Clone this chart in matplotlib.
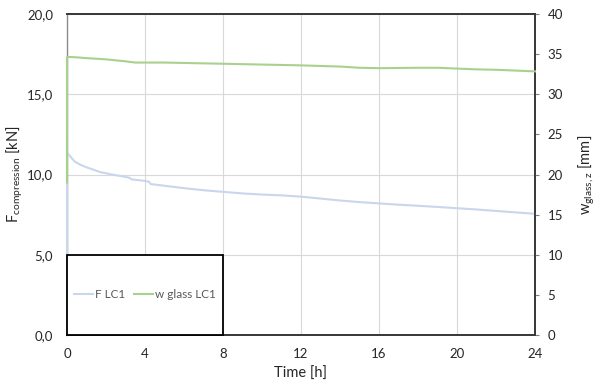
import matplotlib
matplotlib.use("Agg")
import matplotlib.pyplot as plt
from matplotlib.patches import Rectangle
from matplotlib.ticker import FuncFormatter

# Data
t_F = [0, 0.001, 0.05, 0.15, 0.4, 0.7, 1.0, 1.7, 2.3, 3.0, 3.2, 3.3, 4.0, 4.2, 4.3,
       5, 6, 7, 8, 9, 10, 11, 12, 13, 14, 15, 16, 17, 18, 19, 20, 21, 22, 23, 24]
F_LC1 = [0, 11.4, 11.3, 11.15, 10.8, 10.6, 10.45, 10.15, 10.0, 9.85, 9.8, 9.7, 9.6, 9.55, 9.4,
         9.3, 9.15, 9.02, 8.92, 8.82, 8.75, 8.7, 8.62, 8.5, 8.38, 8.28, 8.2, 8.12, 8.05, 7.98,
         7.9, 7.82, 7.73, 7.64, 7.55]

t_w = [0, 0.001, 0.05, 0.5, 1, 2, 3, 3.5, 4, 5, 6, 8, 10, 12, 14, 15, 16, 18, 19, 20,
       21, 22, 23, 24]
w_glass_LC1 = [19, 34.6, 34.65, 34.6, 34.5, 34.35, 34.1, 33.95, 33.95, 33.95, 33.9, 33.8,
               33.7, 33.6, 33.45, 33.3, 33.25, 33.3, 33.3, 33.2, 33.1, 33.05, 32.95, 32.85]

x_ticks = [0, 4, 8, 12, 16, 20, 24]
left_ticks = [0, 5, 10, 15, 20]
right_ticks = [0, 5, 10, 15, 20, 25, 30, 35, 40]

plt.rcParams['font.family'] = ['Lato', 'DejaVu Sans']

fig = plt.figure(figsize=(6, 3.87), dpi=100)
ax = fig.add_axes([67/600, 52/387, 468/600, 321/387])
ax2 = ax.twinx()

blue = '#c9d6ec'
green = '#a9d18e'
txt = '#262626'

ax.set_xlim(0, 24)
ax.set_ylim(0, 20)
ax2.set_ylim(0, 40)
ax.set_xticks(x_ticks)
ax.set_yticks(left_ticks)
ax2.set_yticks(right_ticks)
ax.yaxis.set_major_formatter(FuncFormatter(lambda v, p: f"{v:.1f}".replace('.', ',')))

ax.grid(True, color='#d9d9d9', linewidth=0.8)
ax.set_axisbelow(True)

lF, = ax.plot(t_F, F_LC1, color=blue, lw=1.5, label='F LC1', zorder=3, clip_on=False)
lw, = ax2.plot(t_w, w_glass_LC1, color=green, lw=1.5, label='w glass LC1', zorder=3, clip_on=False)

for a in (ax, ax2):
    for s in a.spines.values():
        s.set_color('#3a3a3a')
        s.set_linewidth(1.3)
ax.spines['left'].set_color('#8c8c8c')
ax.spines['left'].set_linewidth(1.0)
ax2.spines['left'].set_visible(False)

ax.tick_params(axis='both', length=0, labelsize=9.5, colors=txt)
ax.tick_params(axis='x', pad=9)
ax.tick_params(axis='y', pad=10)
ax2.tick_params(axis='y', length=3, color='#7f7f7f', labelsize=9.5, labelcolor=txt, pad=6)

ax.set_xlabel('Time [h]', fontsize=10.5, color=txt, labelpad=5)
ax.set_ylabel(r'F$_{\mathregular{compression}}$ [kN]', fontsize=10.5, color=txt, labelpad=1)
ax2.set_ylabel(r'w$_{\mathregular{glass,z}}$ [mm]', fontsize=10.5, color=txt, labelpad=10, rotation=90)

# Legend box
rect = Rectangle((0, 0), 8/24, 0.25, transform=ax.transAxes, fill=True,
                 facecolor='white', edgecolor='black', lw=1.3, zorder=5, clip_on=False)
ax2.add_patch(rect)
leg = ax2.legend(handles=[lF, lw], loc='center', bbox_to_anchor=(0, 0, 8/24, 0.25),
                 bbox_transform=ax.transAxes, ncol=2, frameon=False, fontsize=8.5,
                 handlelength=1.6, columnspacing=0.8, handletextpad=0.15, labelcolor='#595959')
leg.set_zorder(6)

fig.savefig('out.png', dpi=100)
